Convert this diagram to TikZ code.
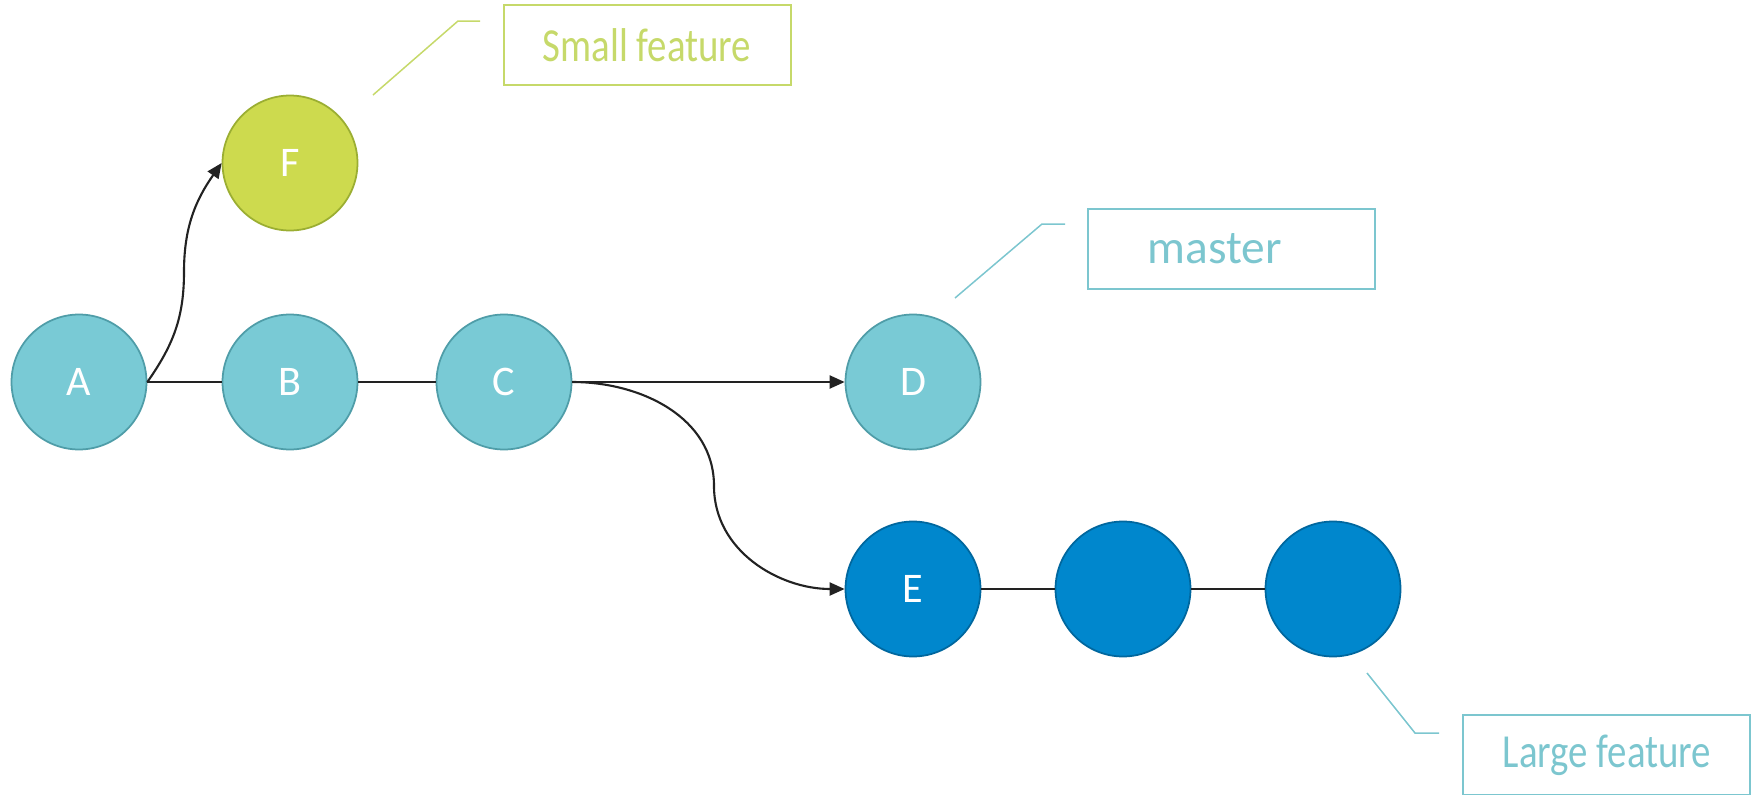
\documentclass[tikz,border=0pt]{standalone}
\usepackage{fontspec}
\setmainfont{Carlito}
\usetikzlibrary{arrows.meta}
\definecolor{tealfill}{HTML}{79CAD5}
\definecolor{tealdraw}{HTML}{4F9DA8}
\definecolor{limefill}{HTML}{CDDA4E}
\definecolor{limedraw}{HTML}{9BAE32}
\definecolor{bluefill}{HTML}{0087CD}
\definecolor{bluedraw}{HTML}{00679E}
\definecolor{tealtext}{HTML}{7CC6CF}
\definecolor{limetext}{HTML}{C6D96A}
\definecolor{linkcol}{HTML}{222222}
\tikzset{
  commit/.style={circle, minimum size=2.7cm, inner sep=0pt, line width=1pt,
    text=white, font=\fontsize{24}{28}\selectfont},
  tealc/.style={commit, fill=tealfill, draw=tealdraw},
  limec/.style={commit, fill=limefill, draw=limedraw},
  bluec/.style={commit, fill=bluefill, draw=bluedraw},
  tagbox/.style={rectangle, minimum width=5.74cm, minimum height=1.6cm, inner sep=0pt, line width=1.1pt},
  tagtext/.style={font=\fontsize{27}{32}\selectfont, inner sep=0pt},
  leader/.style={line width=0.85pt},
  link/.style={draw=linkcol, line width=0.9pt},
  arrowlink/.style={draw=linkcol, line width=1.2pt, -{Triangle[length=0.3cm,width=0.26cm]}}
}
\begin{document}
\begin{tikzpicture}[x=0.02cm, y=-0.02cm]
\useasboundingbox (0,0) rectangle (1756,795);

% commits
\node[tealc] (A) at (79,382) {A};
\node[tealc] (B) at (290,382) {B};
\node[tealc] (C) at (504,382) {C};
\node[tealc] (D) at (913,382) {D};
\node[limec] (F) at (290,163) {F};
\node[bluec] (E) at (913,589) {E};
\node[bluec] (E2) at (1123,589) {};
\node[bluec] (E3) at (1333,589) {};

% links
\draw[link] (A.east) -- (B.west);
\draw[link] (B.east) -- (C.west);
\draw[link] (E.east) -- (E2.west);
\draw[link] (E2.east) -- (E3.west);

\coordinate (af) at (184,272);
\draw[arrowlink] (A.east) to[out=55,in=-90] (af) to[out=90,in=235] (F.west);
\draw[arrowlink] (C.east) -- (D.west);
\coordinate (ce) at (714,486);
\draw[arrowlink] (C.east) to[out=0,in=90] (ce) to[out=-90,in=180] (E.west);

% tags
\node[tagbox, draw=limetext] (sbox) at (647.5,45) {};
\node[tagtext, text=limetext] (stext) at (647,45) {\scalebox{0.82}[1]{Small feature}};
\node[tagbox, draw=tealtext] (mbox) at (1231.5,249) {};
\node[tagtext, text=tealtext] (mtext) at (1215,249) {master};
\node[tagbox, draw=tealtext] (lbox) at (1606.5,755) {};
\node[tagtext, text=tealtext] (ltext) at (1607,755) {\scalebox{0.82}[1]{Large feature}};

% leaders
\coordinate (s1) at (373,95);
\coordinate (s2) at (458,21);
\coordinate (s3) at (480,21);
\draw[leader, draw=limetext] (s1) -- (s2) -- (s3);
\coordinate (m1) at (955,298);
\coordinate (m2) at (1042,224);
\coordinate (m3) at (1065,224);
\draw[leader, draw=tealtext] (m1) -- (m2) -- (m3);
\coordinate (l1) at (1367,673);
\coordinate (l2) at (1415,733);
\coordinate (l3) at (1439,733);
\draw[leader, draw=tealtext] (l1) -- (l2) -- (l3);
\end{tikzpicture}
\end{document}
